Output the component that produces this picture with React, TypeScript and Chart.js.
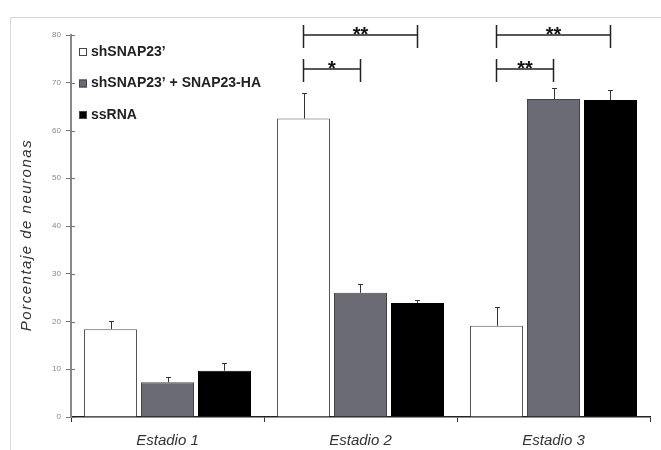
import React, { useEffect, useRef } from "react";
import { Chart, registerables } from "chart.js";

Chart.register(...registerables);

const categories = ["Estadio 1", "Estadio 2", "Estadio 3"];
const seriesNames = ["shSNAP23’", "shSNAP23’ + SNAP23-HA", "ssRNA"];
const shValues = [18.4, 62.5, 19.1];
const rescueValues = [7.3, 26.0, 66.6];
const ssValues = [9.7, 23.9, 66.4];
const shErrors = [1.8, 5.4, 4.0];
const rescueErrors = [1.1, 1.8, 2.3];
const ssErrors = [1.6, 0.6, 2.1];
const yMin = 0;
const yMax = 80;
const yStep = 10;
const yTitle = "Porcentaje de neuronas";
// significance brackets
const bracketCategory = [1, 1, 2, 2];
const bracketFrom = [0, 0, 0, 0];
const bracketTo = [2, 1, 2, 1];
const bracketLevel = [80, 72.9, 80, 72.9];
const bracketLabel = ["**", "*", "**", "**"];

const FONT = "'Liberation Sans', Arial, sans-serif";

const decorPlugin = {
  id: "decor",
  beforeDraw(chart: any) {
    const ctx = chart.ctx;
    ctx.save();
    ctx.strokeStyle = "#d6d6d6";
    ctx.lineWidth = 1;
    ctx.beginPath();
    ctx.moveTo(10.5, 450);
    ctx.lineTo(10.5, 17.5);
    ctx.lineTo(661, 17.5);
    ctx.stroke();
    ctx.restore();
  },
  afterDraw(chart: any) {
    const ctx = chart.ctx;
    const { chartArea, scales } = chart;
    const y = scales.y;
    ctx.save();
    // inward y ticks
    ctx.strokeStyle = "#777";
    ctx.lineWidth = 1;
    for (let v = yMin; v <= yMax; v += yStep) {
      const py = Math.round(y.getPixelForValue(v)) + 0.5;
      ctx.beginPath();
      ctx.moveTo(chartArea.left, py);
      ctx.lineTo(chartArea.left + 4, py);
      ctx.stroke();
    }
    // y title
    ctx.translate(27, 235);
    ctx.rotate(-Math.PI / 2);
    ctx.fillStyle = "#333";
    ctx.font = `italic 15px ${FONT}`;
    (ctx as any).letterSpacing = "1.5px";
    ctx.textAlign = "center";
    ctx.textBaseline = "middle";
    ctx.fillText(yTitle, 0, 0);
    ctx.restore();

    // legend
    ctx.save();
    const fills = ["#ffffff", "#6b6b75", "#000000"];
    const lx = chartArea.left + 8;
    seriesNames.forEach((name, i) => {
      const cy = chartArea.top + 17 + i * 31.5;
      ctx.fillStyle = fills[i];
      ctx.fillRect(lx, cy - 4, 8, 8);
      ctx.strokeStyle = "#444";
      ctx.lineWidth = 1;
      ctx.strokeRect(lx + 0.5, cy - 3.5, 7, 7);
      ctx.fillStyle = "#222";
      ctx.font = `bold 14px ${FONT}`;
      ctx.textAlign = "left";
      ctx.textBaseline = "middle";
      ctx.fillText(name, lx + 12, cy);
    });
    ctx.restore();
  },
  afterDatasetsDraw(chart: any) {
    const ctx = chart.ctx;
    const y = chart.scales.y;
    const errs = [shErrors, rescueErrors, ssErrors];
    const vals = [shValues, rescueValues, ssValues];
    ctx.save();
    ctx.strokeStyle = "#333";
    ctx.lineWidth = 1;
    for (let d = 0; d < 3; d++) {
      const meta = chart.getDatasetMeta(d);
      meta.data.forEach((bar: any, j: number) => {
        const x = Math.round(bar.x) + 0.5;
        const top = y.getPixelForValue(vals[d][j]);
        const et = Math.round(y.getPixelForValue(vals[d][j] + errs[d][j])) + 0.5;
        ctx.beginPath();
        ctx.moveTo(x, top);
        ctx.lineTo(x, et);
        ctx.moveTo(x - 2.5, et);
        ctx.lineTo(x + 2.5, et);
        ctx.stroke();
      });
    }
    // brackets
    ctx.strokeStyle = "#222";
    ctx.lineWidth = 1.5;
    ctx.fillStyle = "#111";
    bracketLabel.forEach((lab, k) => {
      const c = bracketCategory[k];
      const x1 = chart.getDatasetMeta(bracketFrom[k]).data[c].x;
      const x2 = chart.getDatasetMeta(bracketTo[k]).data[c].x;
      const ly = Math.round(y.getPixelForValue(bracketLevel[k]));
      ctx.beginPath();
      ctx.moveTo(x1, ly);
      ctx.lineTo(x2, ly);
      ctx.moveTo(x1, ly - 10);
      ctx.lineTo(x1, ly + 13);
      ctx.moveTo(x2, ly - 10);
      ctx.lineTo(x2, ly + 13);
      ctx.stroke();
      ctx.font = `bold 20px ${FONT}`;
      ctx.textAlign = "center";
      ctx.textBaseline = "alphabetic";
      ctx.fillText(lab, (x1 + x2) / 2, ly + 6);
    });
    ctx.restore();
  },
};

export default function App() {
  const ref = useRef<HTMLCanvasElement | null>(null);
  useEffect(() => {
    if (!ref.current) return;
    const chart = new Chart(ref.current, {
      type: "bar",
      data: {
        labels: categories,
        datasets: [
          {
            label: seriesNames[0],
            data: shValues,
            backgroundColor: "#ffffff",
            borderColor: "#555",
            borderWidth: 1,
          },
          {
            label: seriesNames[1],
            data: rescueValues,
            backgroundColor: "#6b6b75",
            borderColor: "#444",
            borderWidth: 1,
          },
          {
            label: seriesNames[2],
            data: ssValues,
            backgroundColor: "#000000",
            borderColor: "#000",
            borderWidth: 1,
          },
        ],
      },
      options: {
        animation: false,
        responsive: false,
        devicePixelRatio: 1,
        layout: { padding: { top: 35, right: 11, left: 0, bottom: 0 } },
        plugins: { legend: { display: false }, tooltip: { enabled: false } },
        datasets: { bar: { categoryPercentage: 0.886, barPercentage: 0.93 } },
        scales: {
          x: {
            afterFit: (s: any) => {
              s.height = 33;
            },
            grid: {
              drawOnChartArea: false,
              drawTicks: true,
              tickLength: 5,
              color: "#333",
              offset: true,
            },
            border: { color: "#222", width: 1.5 },
            ticks: {
              color: "#333",
              padding: 10,
              font: { family: FONT, size: 15, style: "italic" },
            },
          },
          y: {
            min: yMin,
            max: yMax,
            afterFit: (s: any) => {
              s.width = 71;
            },
            grid: {
              drawOnChartArea: false,
              drawTicks: true,
              tickLength: 5,
              color: "#777",
            },
            border: { color: "#888", width: 2 },
            ticks: {
              stepSize: yStep,
              color: "#888",
              padding: 5,
              font: { family: FONT, size: 8 },
            },
          },
        },
      },
      plugins: [decorPlugin],
    });
    return () => chart.destroy();
  }, []);
  return (
    <div style={{ position: "fixed", left: 0, top: 0, width: 661, height: 450, background: "#fff" }}>
      <canvas ref={ref} width={661} height={450} style={{ display: "block" }} />
    </div>
  );
}
